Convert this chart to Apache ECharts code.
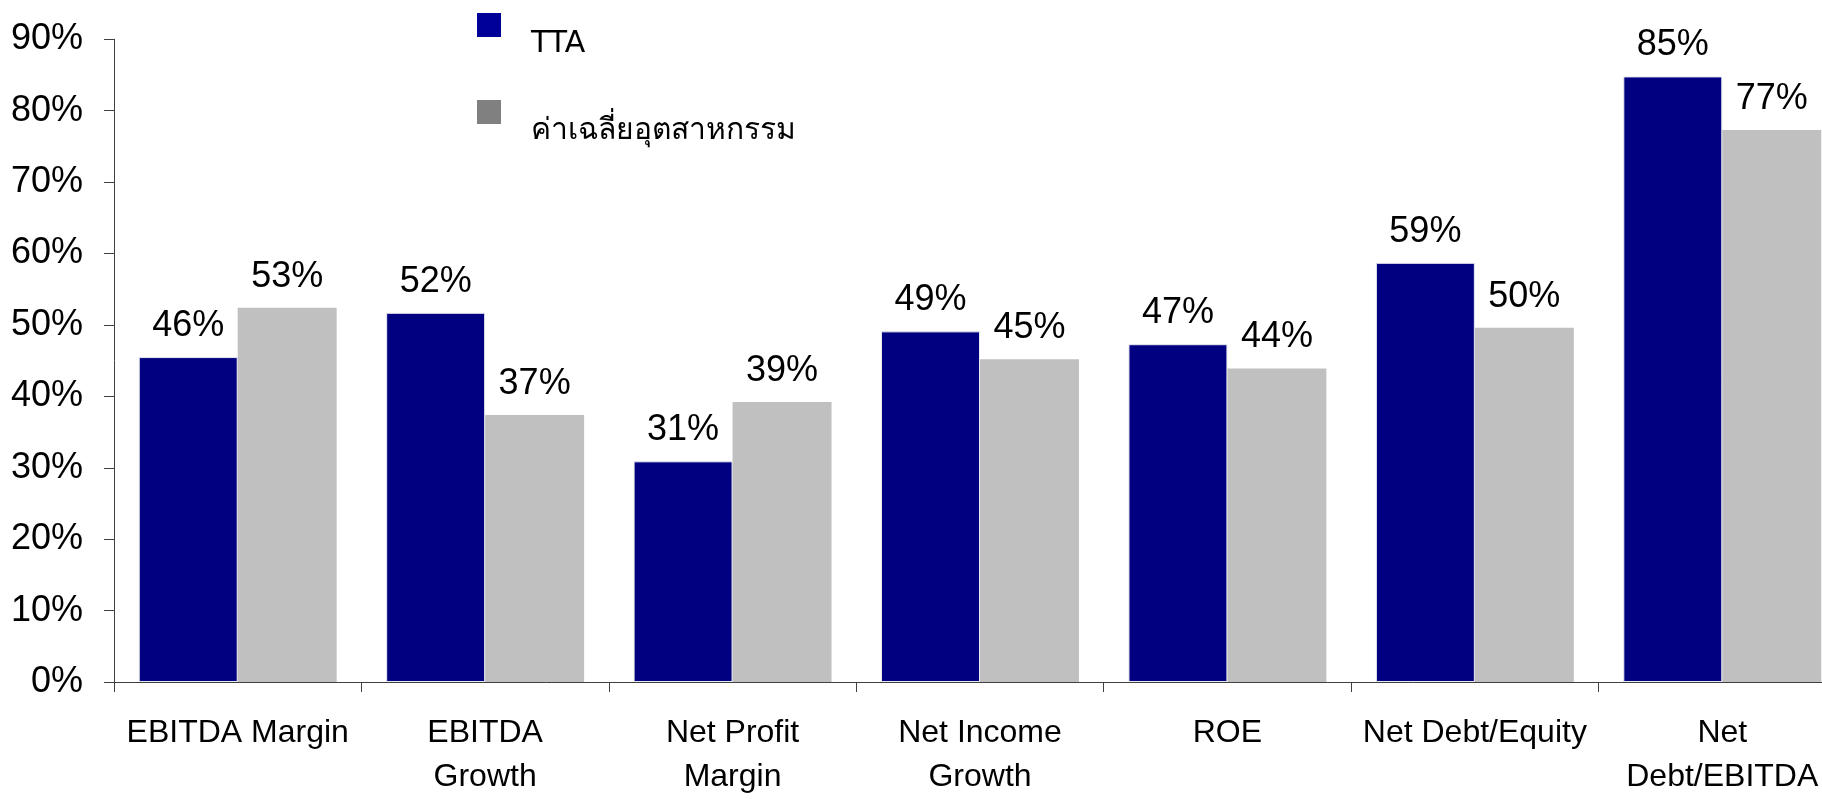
<!DOCTYPE html>
<html>
<head>
<meta charset="utf-8">
<title>TTA vs industry</title>
<script src="https://cdn.jsdelivr.net/npm/echarts@6/dist/echarts.min.js"></script>
<style>
  html, body { margin: 0; padding: 0; background: #fff; overflow: hidden; }
  /* the plot runs a bit past the right edge, like the original */
  #chart { width: 1860px; height: 799px; }
</style>
</head>
<body>
<div id="chart"></div>
<script>
// categories
const categories = ['EBITDA Margin', 'EBITDA\nGrowth', 'Net Profit\nMargin', 'Net Income\nGrowth', 'ROE', 'Net Debt/Equity', 'Net\nDebt/EBITDA']

// series values (%)
const ttaValues = [45.5, 51.7, 30.9, 49.1, 47.3, 58.7, 84.8]
const industryValues = [52.4, 37.4, 39.2, 45.2, 43.9, 49.6, 77.3]

// printed labels
const ttaLabels = ['46%', '52%', '31%', '49%', '47%', '59%', '85%']
const industryLabels = ['53%', '37%', '39%', '45%', '44%', '50%', '77%']

// y ticks
const yMin = 0
const yMax = 90
const yStep = 10

const seriesNames = ['TTA', 'ค่าเฉลี่ยอุตสาหกรรม']

const font = '"Liberation Sans", Arial, sans-serif'
const axisColor = '#404040'

// legend square sits at the top of a taller box so the text hangs below it
const legendIcon = 'path://M0,0H24V24H0Z M0,62'

let chart = echarts.init(document.getElementById('chart'))

// 数据标签
const makeLabel = (labels) => ({
  show: true,
  position: 'top',
  distance: 13,
  fontSize: 36,
  fontFamily: font,
  color: '#000',
  formatter: (p) => labels[p.dataIndex]
})

let option = {
  animation: false,
  backgroundColor: '#fff',
  grid: {
    left: 114,
    top: 39.3,
    right: 14,
    bottom: 109.6
  },
  legend: {
    orient: 'vertical',
    left: 477,
    top: 13,
    padding: 0,
    itemWidth: 24,
    itemHeight: 62,
    itemGap: 25,
    icon: legendIcon,
    itemStyle: { borderWidth: 0 },
    data: [
      { name: seriesNames[0], itemStyle: { color: '#000099' } },
      { name: seriesNames[1], itemStyle: { color: '#808080' } }
    ],
    textStyle: {
      fontSize: 30,
      fontFamily: '"DejaVu Sans", "Noto Sans", sans-serif',
      color: '#000',
      padding: [0, 0, 0, 25]
    }
  },
  xAxis: {
    type: 'category',
    data: categories,
    boundaryGap: true,
    axisLine: { lineStyle: { color: axisColor, width: 1 } },
    axisTick: { show: true, length: 10, lineStyle: { color: axisColor } },
    axisLabel: {
      margin: 29,
      fontSize: 32,
      lineHeight: 44,
      fontFamily: font,
      color: '#000',
      interval: 0
    }
  },
  yAxis: {
    type: 'value',
    min: yMin,
    max: yMax,
    interval: yStep,
    splitLine: { show: false },
    axisLine: { show: true, lineStyle: { color: axisColor, width: 1 } },
    axisTick: { show: true, length: 10, lineStyle: { color: axisColor } },
    axisLabel: {
      margin: 31,
      fontSize: 36,
      fontFamily: font,
      color: '#000',
      formatter: '{value}%'
    }
  },
  series: [
    {
      name: seriesNames[0],
      type: 'bar',
      data: ttaValues,
      barGap: '0%',
      barCategoryGap: '20%',
      itemStyle: { color: '#000080', borderColor: '#e8e8f0', borderWidth: 1 },
      label: makeLabel(ttaLabels)
    },
    {
      name: seriesNames[1],
      type: 'bar',
      data: industryValues,
      barGap: '0%',
      barCategoryGap: '20%',
      itemStyle: { color: '#C0C0C0' },
      label: makeLabel(industryLabels)
    }
  ]
}

chart.setOption(option)
</script>
</body>
</html>
